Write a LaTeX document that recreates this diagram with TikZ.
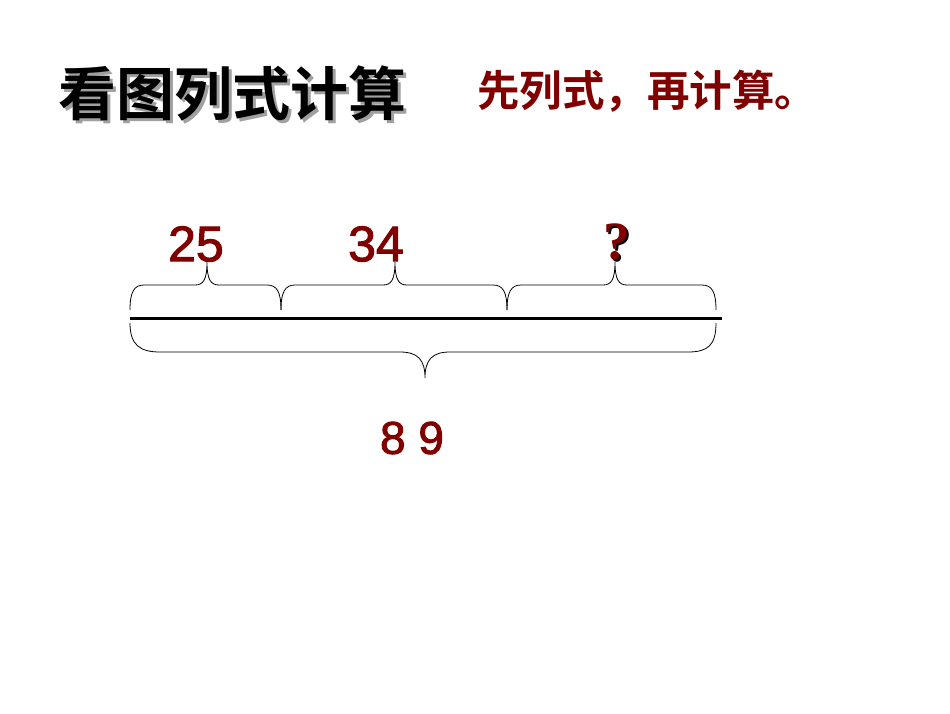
\documentclass[tikz,border=0pt]{standalone}
\usepackage{fontspec}
\setmainfont{Liberation Sans}
\newfontfamily\cjk{Noto Sans CJK SC}[BoldFont={* Bold}]
\newfontfamily\numfont{Liberation Sans}[FakeBold=2]
\newfontfamily\qfont{Liberation Serif}
\definecolor{darkred}{HTML}{800000}
\definecolor{shadowgray}{HTML}{A0A0A0}
\newcommand{\topbrace}[3]{% left x, tip x, right x
  \draw[bracestyle] (#1,310) .. controls (#1,292) and (#1+4,285) .. (#1+14,285)
    -- (#2-12,285) .. controls (#2-4,285) and (#2,280) .. (#2,262)
    .. controls (#2,280) and (#2+4,285) .. (#2+12,285)
    -- (#3-14,285) .. controls (#3-4,285) and (#3,292) .. (#3,310);}
\begin{document}
\begin{tikzpicture}[x=1pt,y=-1pt,
  bracestyle/.style={line width=0.8pt,black},
  numtext/.style={text=darkred,font=\numfont\fontsize{50}{50}\selectfont,inner sep=0pt},
  titletext/.style={font=\cjk\bfseries\fontsize{58}{58}\selectfont,inner sep=0pt},
  subtext/.style={text=darkred,font=\cjk\bfseries\fontsize{42.5}{42.5}\selectfont,inner sep=0pt}]
\useasboundingbox[fill=white] (0,0) rectangle (950,713);
% title with shadow
\node[titletext,text=shadowgray,anchor=west] (titleshadow) at (61,96) {看图列式计算};
\node[titletext,anchor=west] (title) at (58,93) {看图列式计算};
\node[subtext,anchor=west] (sub) at (477,91) {先列式，再计算。};
% main line
\coordinate (lineL) at (130,318);
\coordinate (lineR) at (722,318);
\draw[line width=3pt] (lineL) -- (lineR);
% top braces
\topbrace{130}{207}{281}
\topbrace{281}{395}{507}
\topbrace{507}{615}{716}
% bottom brace
\draw[bracestyle] (130,323) .. controls (130,345) and (140,352) .. (160,352)
  -- (400,352) .. controls (418,352) and (425,360) .. (425,378)
  .. controls (425,360) and (432,352) .. (450,352)
  -- (688,352) .. controls (708,352) and (716,345) .. (716,323);
% labels
\node[numtext] (n25) at (196,244) {25};
\node[numtext] (n34) at (376,244) {34};
\node[numtext,text=black,font=\qfont\bfseries\fontsize{54}{54}\selectfont] (qshadow) at (619,244) {?};
\node[numtext,font=\qfont\bfseries\fontsize{54}{54}\selectfont] (q) at (617,242) {?};
\node[numtext,font=\numfont\fontsize{46}{46}\selectfont] (n89) at (412,438) {8 9};
\end{tikzpicture}
\end{document}
